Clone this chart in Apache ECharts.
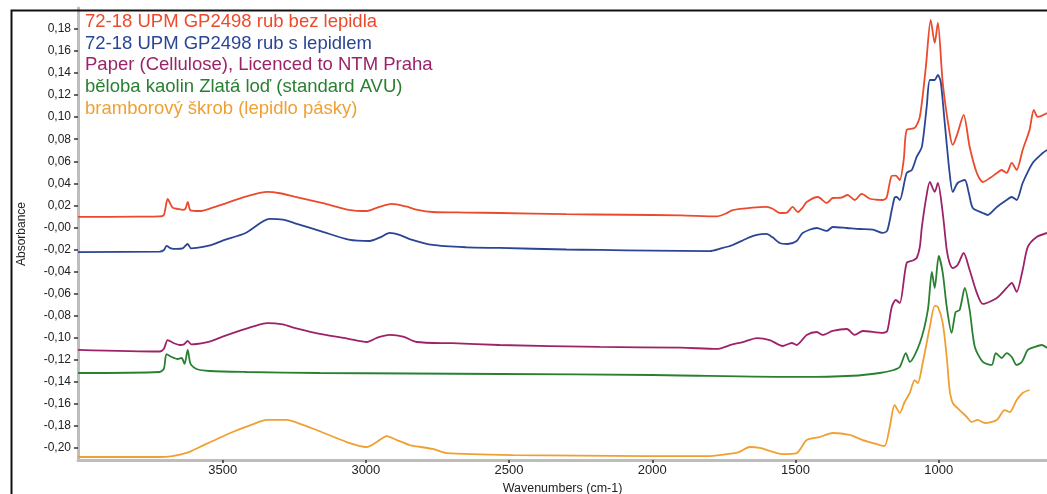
<!DOCTYPE html>
<html>
<head>
<meta charset="utf-8">
<script src="https://cdn.jsdelivr.net/npm/echarts@6/dist/echarts.min.js"></script>
<style>
  html, body { margin: 0; padding: 0; background: #ffffff; }
  #chart { width: 1047px; height: 494px; }
</style>
</head>
<body>
<div id="chart"></div>
<script>
// FTIR spectra: wavenumber (cm-1) vs absorbance, curves offset for readability
const seriesNames = [
  '72-18 UPM GP2498 rub bez lepidla',
  '72-18 UPM GP2498 rub s lepidlem',
  'Paper (Cellulose), Licenced to NTM Praha',
  'běloba kaolin Zlatá loď (standard AVU)',
  'bramborový škrob (lepidlo pásky)'
];
const seriesColors = ['#ec4a2c', '#2a4596', '#9c2368', '#2a8032', '#f0a032'];

const xTickValues = [3500, 3000, 2500, 2000, 1500, 1000];
const xTickLabels = ['3500', '3000', '2500', '2000', '1500', '1000'];
const yTickValues = [0.18, 0.16, 0.14, 0.12, 0.10, 0.08, 0.06, 0.04, 0.02, 0.00,
  -0.02, -0.04, -0.06, -0.08, -0.10, -0.12, -0.14, -0.16, -0.18, -0.20];
const yTickLabels = ['0,18', '0,16', '0,14', '0,12', '0,10', '0,08', '0,06', '0,04', '0,02', '-0,00',
  '-0,02', '-0,04', '-0,06', '-0,08', '-0,10', '-0,12', '-0,14', '-0,16', '-0,18', '-0,20'];

// [wavenumber, absorbance]
const spectrumBez = [
  [4005,0.0095],[3800,0.0098],[3720,0.0100],[3705,0.0115],[3692,0.0258],[3675,0.0180],[3654,0.0167],
  [3640,0.0160],[3630,0.0170],[3622,0.0231],[3612,0.0155],[3580,0.0149],[3540,0.0175],[3500,0.0210],
  [3420,0.0280],[3343,0.0322],[3300,0.0310],[3250,0.0280],[3150,0.0220],[3060,0.0160],[2997,0.0149],
  [2960,0.0180],[2910,0.0213],[2860,0.0190],[2820,0.0160],[2767,0.0140],[2650,0.0135],[2533,0.0131],
  [2300,0.0120],[2100,0.0115],[1900,0.0110],[1775,0.0100],[1740,0.0130],[1719,0.0158],[1650,0.0180],
  [1601,0.0186],[1580,0.0170],[1555,0.0131],[1530,0.0135],[1510,0.0186],[1492,0.0140],[1475,0.0180],
  [1461,0.0231],[1422,0.0276],[1391,0.0222],[1370,0.0267],[1340,0.0270],[1318,0.0294],[1293,0.0249],
  [1269,0.0304],[1240,0.0260],[1210,0.0250],[1196,0.0249],[1182,0.0270],[1164,0.0467],[1150,0.0470],
  [1136,0.0430],[1122,0.0620],[1112,0.0884],[1084,0.0902],[1066,0.1002],[1045,0.1455],[1028,0.1882],
  [1014,0.1673],[1003,0.1854],[986,0.1310],[962,0.0857],[951,0.0748],[934,0.0857],[913,0.1020],
  [892,0.0730],[867,0.0494],[846,0.0412],[820,0.0450],[797,0.0494],[780,0.0521],[763,0.0494],
  [745,0.0585],[728,0.0521],[707,0.0703],[683,0.0884],[668,0.1065],[654,0.1002],[622,0.1038]
];
const spectrumSLepidlem = [
  [4005,-0.0223],[3720,-0.0220],[3705,-0.0205],[3696,-0.0168],[3680,-0.0190],[3661,-0.0195],[3640,-0.0190],
  [3622,-0.0150],[3610,-0.0190],[3591,-0.0186],[3540,-0.0160],[3500,-0.0120],[3420,-0.0050],[3336,0.0077],
  [3290,0.0070],[3250,0.0040],[3150,-0.0040],[3060,-0.0110],[2987,-0.0123],[2950,-0.0090],[2917,-0.0050],
  [2880,-0.0070],[2847,-0.0105],[2767,-0.0159],[2650,-0.0180],[2533,-0.0186],[2300,-0.0200],[2184,-0.0204],
  [2000,-0.0210],[1800,-0.0214],[1760,-0.0190],[1719,-0.0159],[1670,-0.0100],[1635,-0.0068],[1601,-0.0059],
  [1580,-0.0090],[1555,-0.0141],[1527,-0.0150],[1496,-0.0123],[1475,-0.0050],[1426,-0.0005],[1391,-0.0032],
  [1370,0.0004],[1321,-0.0005],[1276,-0.0014],[1230,-0.0020],[1196,-0.0050],[1180,-0.0030],[1164,0.0158],
  [1154,0.0270],[1147,0.0276],[1136,0.0249],[1112,0.0494],[1094,0.0521],[1077,0.0639],[1059,0.0730],
  [1042,0.1093],[1031,0.1337],[1014,0.1337],[1003,0.1383],[993,0.1319],[979,0.0947],[962,0.0494],
  [951,0.0322],[934,0.0403],[909,0.0430],[895,0.0313],[881,0.0176],[846,0.0131],[829,0.0113],
  [797,0.0186],[763,0.0249],[745,0.0276],[728,0.0249],[707,0.0403],[672,0.0585],[637,0.0675],[622,0.0703]
];
const spectrumPaper = [
  [4005,-0.1110],[3720,-0.1125],[3705,-0.1100],[3692,-0.1021],[3670,-0.1050],[3650,-0.1066],[3635,-0.1060],
  [3622,-0.1030],[3610,-0.1060],[3591,-0.1057],[3540,-0.1030],[3500,-0.0990],[3420,-0.0920],[3343,-0.0867],
  [3290,-0.0880],[3250,-0.0910],[3150,-0.0970],[3060,-0.1010],[2997,-0.1039],[2960,-0.1000],[2917,-0.0975],
  [2870,-0.0990],[2823,-0.1039],[2700,-0.1050],[2533,-0.1066],[2184,-0.1084],[1900,-0.1090],[1775,-0.1102],
  [1720,-0.1060],[1684,-0.1039],[1635,-0.1003],[1590,-0.1021],[1545,-0.1075],[1513,-0.1048],[1496,-0.1066],
  [1461,-0.0975],[1426,-0.0948],[1405,-0.0975],[1370,-0.0939],[1321,-0.0921],[1293,-0.0975],[1265,-0.0939],
  [1196,-0.0957],[1180,-0.0940],[1164,-0.0721],[1150,-0.0658],[1136,-0.0685],[1112,-0.0322],[1090,-0.0300],
  [1077,-0.0277],[1066,-0.0177],[1059,0.0000],[1045,0.0250],[1031,0.0412],[1014,0.0322],[1003,0.0403],
  [986,0.0131],[972,-0.0204],[962,-0.0322],[951,-0.0368],[934,-0.0340],[913,-0.0232],[892,-0.0386],
  [867,-0.0594],[846,-0.0694],[797,-0.0640],[763,-0.0549],[745,-0.0504],[728,-0.0585],[707,-0.0386],
  [689,-0.0177],[658,-0.0087],[622,-0.0050]
];
const spectrumKaolin = [
  [4005,-0.1320],[3720,-0.1311],[3705,-0.1280],[3696,-0.1148],[3678,-0.1175],[3657,-0.1193],[3643,-0.1184],
  [3633,-0.1238],[3622,-0.1111],[3612,-0.1238],[3591,-0.1284],[3545,-0.1302],[3416,-0.1311],[3161,-0.1320],
  [2533,-0.1329],[2000,-0.1338],[1485,-0.1356],[1300,-0.1345],[1206,-0.1320],[1160,-0.1295],[1136,-0.1266],
  [1115,-0.1139],[1101,-0.1220],[1066,-0.1048],[1038,-0.0749],[1024,-0.0404],[1014,-0.0549],[1000,-0.0259],
  [986,-0.0413],[972,-0.0721],[955,-0.0957],[941,-0.0767],[927,-0.0749],[909,-0.0549],[892,-0.0749],
  [874,-0.1084],[846,-0.1220],[815,-0.1247],[801,-0.1139],[780,-0.1184],[763,-0.1139],[745,-0.1175],
  [728,-0.1247],[710,-0.1220],[689,-0.1111],[665,-0.1084],[640,-0.1066],[622,-0.1093]
];
const spectrumStarch = [
  [4005,-0.2082],[3720,-0.2082],[3675,-0.2073],[3620,-0.2040],[3580,-0.1991],[3465,-0.1855],[3400,-0.1790],
  [3346,-0.1746],[3277,-0.1746],[3220,-0.1790],[3172,-0.1837],[3067,-0.1946],[2997,-0.1991],[2962,-0.1946],
  [2927,-0.1892],[2892,-0.1928],[2847,-0.1973],[2767,-0.2009],[2718,-0.2046],[2487,-0.2064],[2020,-0.2073],
  [1800,-0.2073],[1765,-0.2064],[1700,-0.2040],[1660,-0.1991],[1625,-0.2000],[1545,-0.2055],[1496,-0.2046],
  [1461,-0.1928],[1416,-0.1901],[1370,-0.1864],[1311,-0.1882],[1265,-0.1928],[1230,-0.1955],[1206,-0.1973],
  [1189,-0.1982],[1171,-0.1810],[1154,-0.1610],[1136,-0.1683],[1119,-0.1583],[1101,-0.1501],[1084,-0.1384],
  [1073,-0.1411],[1056,-0.1229],[1031,-0.0903],[1014,-0.0712],[1003,-0.0721],[986,-0.0867],[972,-0.1175],
  [962,-0.1474],[951,-0.1592],[927,-0.1656],[902,-0.1719],[885,-0.1764],[864,-0.1746],[839,-0.1774],
  [797,-0.1746],[770,-0.1656],[752,-0.1674],[728,-0.1565],[707,-0.1501],[683,-0.1474]
];

const spectra = [spectrumBez, spectrumSLepidlem, spectrumPaper, spectrumKaolin, spectrumStarch];
const fontFamily = '"Liberation Sans", Arial, sans-serif';

function labelFor(values, labels, v) {
  const i = values.findIndex(t => Math.abs(t - v) < 1e-6);
  return i >= 0 ? labels[i] : '';
}

const chart = echarts.init(document.getElementById('chart'), null, { renderer: 'canvas' });
chart.setOption({
  animation: false,
  backgroundColor: '#ffffff',
  grid: { left: 78, right: 0, top: 8, bottom: 34, containLabel: false, outerBoundsMode: 'none' },
  legend: {
    orient: 'vertical',
    left: 80,
    top: 12.5,
    padding: 0,
    itemGap: 2.7,
    itemWidth: 0,
    itemHeight: 0,
    icon: 'none',
    selectedMode: false,
    textStyle: { fontFamily: fontFamily, fontSize: 18.5 },
    data: seriesNames.map((n, i) => ({ name: n, textStyle: { color: seriesColors[i] } }))
  },
  xAxis: {
    type: 'value',
    inverse: true,
    min: 622,
    max: 4005,
    name: 'Wavenumbers (cm-1)',
    nameLocation: 'middle',
    nameGap: 12,
    nameTextStyle: { fontFamily: fontFamily, fontSize: 12.5, color: '#222' },
    axisLine: { show: true, onZero: false, lineStyle: { color: '#bdbdbd', width: 3 } },
    axisTick: { show: true, length: 3, lineStyle: { color: '#333', width: 1.5 }, customValues: xTickValues },
    axisLabel: {
      fontFamily: fontFamily, fontSize: 13, color: '#222', margin: 4,
      customValues: xTickValues,
      formatter: v => labelFor(xTickValues, xTickLabels, v)
    },
    splitLine: { show: false }
  },
  yAxis: {
    type: 'value',
    min: -0.2109,
    max: 0.199,
    name: 'Absorbance',
    nameLocation: 'middle',
    nameGap: 50,
    nameTextStyle: { fontFamily: fontFamily, fontSize: 12, color: '#222' },
    axisLine: { show: true, onZero: false, lineStyle: { color: '#bdbdbd', width: 3 } },
    axisTick: { show: true, length: 4, lineStyle: { color: '#333', width: 1.5 }, customValues: yTickValues },
    axisLabel: {
      fontFamily: fontFamily, fontSize: 12, color: '#222', margin: 7,
      customValues: yTickValues,
      formatter: v => labelFor(yTickValues, yTickLabels, v)
    },
    splitLine: { show: false }
  },
  graphic: [{
    type: 'rect',
    left: 9, top: 8,
    shape: { width: 1200, height: 700 },
    style: { fill: 'none', stroke: '#111', lineWidth: 2 },
    silent: true,
    z: 100
  }],
  series: spectra.map((d, i) => ({
    name: seriesNames[i],
    type: 'line',
    data: d,
    showSymbol: false,
    smooth: 0.25,
    clip: true,
    lineStyle: { color: seriesColors[i], width: 1.8 },
    itemStyle: { color: seriesColors[i] }
  }))
});
</script>
</body>
</html>
